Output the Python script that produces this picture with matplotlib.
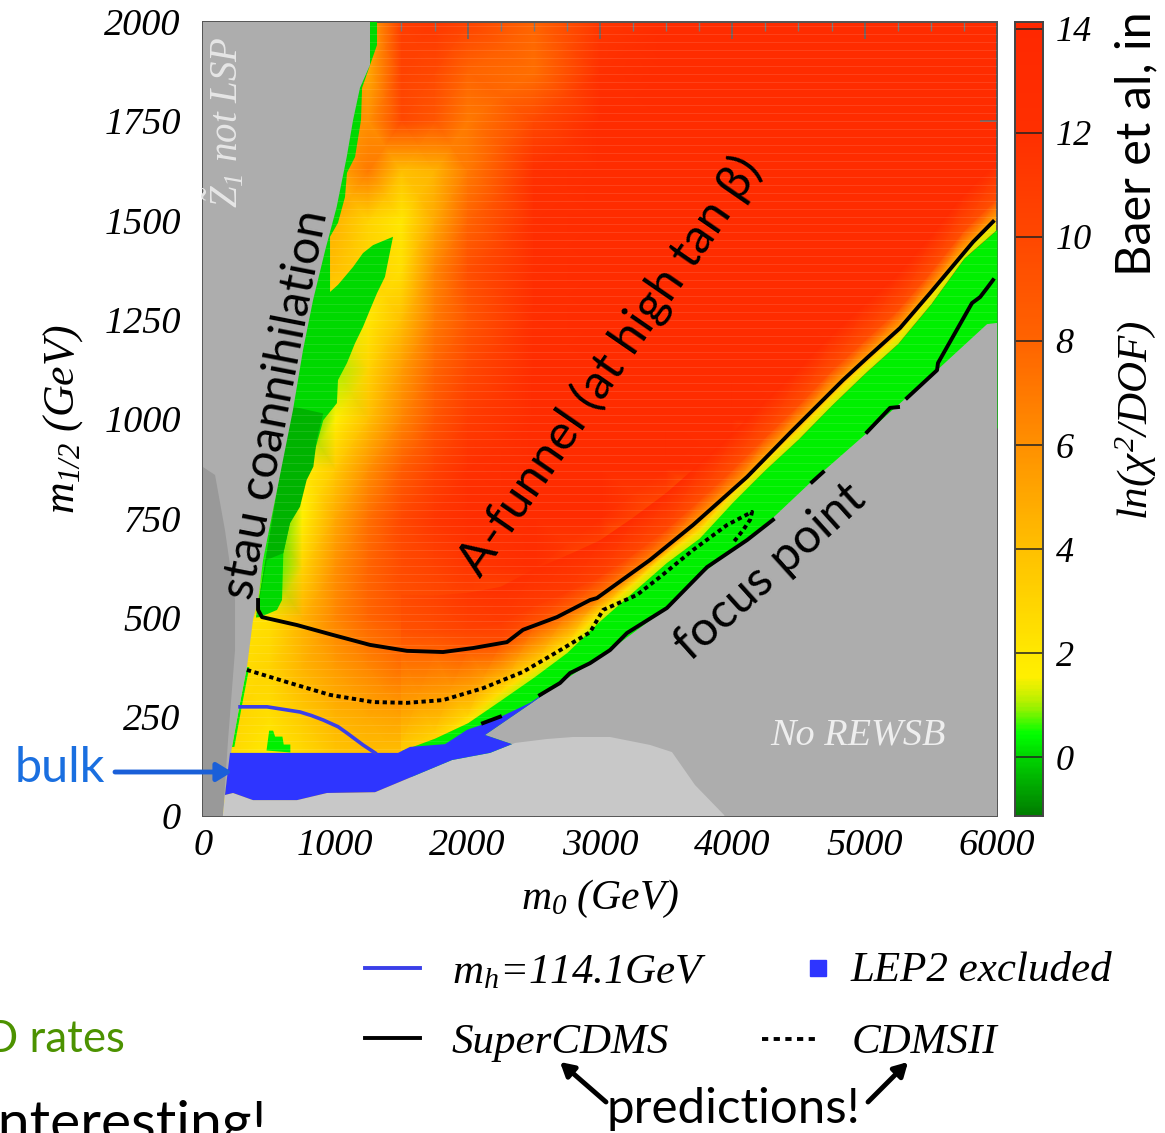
import numpy as np
import matplotlib
matplotlib.use('Agg')
import matplotlib.pyplot as plt
from matplotlib.colors import LinearSegmentedColormap

W, H = 1165, 1133

# fondo ln(chi2/DOF)
m0_grid = [0, 250, 500, 750, 1000, 1250, 1500, 1750, 2000, 2500, 3000, 3500, 4000, 4500, 5000, 5500, 6000]
m12_grid = [0, 125, 250, 375, 500, 625, 750, 875, 1000, 1125, 1250, 1375, 1500, 1625, 1750, 1875, 2000]
chi_grid = [
    [2, 2.5, 2, 3, 3.5, 4, 4, 3.5, 2, 1, 1, 1, 1, 1, 1, 1, 1],
    [2, 2.5, 1.5, 2.5, 3.5, 3.8, 3.6, 3.5, 3, 1, 1, 1, 1, 1, 1, 1, 1],
    [3, 3, 2.5, 3.5, 4.5, 5, 5.2, 4.8, 4, 1, 1, 1, 1, 1, 1, 1, 1],
    [2.5, 2.5, 3, 4.5, 5.5, 6.5, 7.5, 7.5, 7, 3, 1, 1, 1, 1, 1, 1, 1],
    [2, 2, 2.5, 4.5, 6.5, 8, 9.3, 9.7, 10, 8, 4, 1, 1, 1, 1, 1, 1],
    [0, 0, 0.5, 3, 6, 8, 9.8, 10.5, 11.5, 12.5, 9, 3, 1, 1, 1, 1, 1],
    [0, 0, 0, 1.5, 5, 7.5, 10, 11.5, 12.5, 13, 13, 9, 2, 1, 1, 1, 1],
    [0, 0, 0, 1.5, 3.5, 6, 8.5, 10.5, 12, 13, 13, 13, 12, 5, 1, 1, 1],
    [0, 0, 0, 0, 1.5, 4, 6.5, 9, 11, 13, 13, 13, 13, 12.5, 5, 1, 1],
    [0, 0, 0, 0, 1, 3, 5.5, 8, 10, 13, 13, 13, 13, 13, 12.5, 5, 1],
    [3, 3, 3, 3, 2, 2, 4, 7, 9, 12.5, 13, 13, 13, 13, 13, 12.5, 5],
    [4, 4, 4, 4, 4, 3, 2.5, 6.5, 9.5, 12.5, 13, 13, 13, 13, 13, 13, 12.5],
    [5, 5, 5, 5, 4.5, 3, 2, 5, 8, 12.5, 13, 13, 13, 13, 13, 13, 13],
    [5, 5, 5, 5, 5, 7, 4, 4.5, 7, 12, 13, 13, 13, 13, 13, 13, 13],
    [6, 6, 6, 6, 6, 6, 10, 9, 7, 10, 13, 13, 13, 13, 13, 13, 13],
    [6, 6, 6, 6, 6, 5, 10.5, 10, 8, 7.5, 12, 13, 13, 13, 13, 13, 13],
    [6, 6, 6, 6, 6, 5, 11, 11.5, 10.5, 8, 11.5, 13, 13, 13, 13, 13, 13],
]

# banda de transicion junto a focus point
band_m0 = [1500, 1750, 2000, 2250, 2500, 2750, 3000, 3250, 3500, 3750, 4000, 4250, 4500, 4750, 5000, 5250, 5500, 5750, 6000]
green_edge = [165, 196, 235, 292, 350, 412, 492, 565, 638, 700, 790, 873, 950, 1035, 1115, 1190, 1290, 1405, 1478]
solid_edge = [416, 414, 421, 436, 480, 515, 553, 610, 672, 745, 822, 905, 985, 1072, 1148, 1224, 1320, 1425, 1505]
band_chi0 = [3.5, 3, 2, 1.2, 1.2, 1.2, 1.2, 1.2, 1.2, 1.2, 1.2, 1.2, 1.2, 1.2, 1.2, 1.2, 1.2, 1.2, 1.2]
band_chi1 = [3.7, 3.5, 3, 2.5, 2.5, 2.5, 2.5, 2.5, 2.5, 2.5, 2.5, 2.5, 2.5, 2.5, 2.5, 2.5, 2.5, 2.5, 2.5]
band_chi2 = [8, 8, 9, 9.5, 9, 8, 7, 6.5, 6, 5.5, 5.5, 5, 5, 5, 5, 5, 5, 5, 5]
band_chi3 = [9.3, 9.7, 10.5, 11, 11, 11, 10.5, 10, 10, 9.5, 9.5, 9.5, 9.5, 9.5, 9.5, 9.5, 9.5, 9.5, 9.5]
band_chi4 = [9.8, 10.5, 11.5, 12, 12.5, 12.5, 13, 13, 13, 13, 13, 13, 13, 13, 13, 13, 13, 13, 13]

# zonas excluidas
stau_x = [0, 1262, 1262, 1186, 1134, 1086, 1010, 924, 832, 756, 680, 454, 416, 378, 332, 280, 219, 166, 150, 0]
stau_y = [2000, 2000, 1892, 1834, 1753, 1660, 1534, 1426, 1300, 1174, 1023, 645, 544, 494, 375, 285, 174, 53, 0, 0]
rewsb_x = [2131, 2494, 2698, 3076, 3250, 3506, 3779, 4307, 4587, 5018, 5547, 5925, 6000, 6000, 3945, 2335]
rewsb_y = [204, 287, 335, 418, 461, 524, 612, 751, 839, 965, 1123, 1239, 1242, 0, 0, 181]
light_x = [150, 166, 227, 378, 710, 937, 1300, 1882, 2169, 2358, 2600, 2796, 3076, 3378, 3544, 3718, 3945]
light_y = [0, 53, 58, 40, 40, 58, 60, 141, 159, 184, 194, 199, 199, 179, 161, 78, 0]
strip_x = [0, 0, 91, 166, 242, 242, 189, 151]
strip_y = [0, 879, 859, 720, 544, 418, 191, 0]
lep_x = [204, 1474, 1564, 1829, 1995, 2169, 2471, 2698, 2494, 2131, 2335, 2169, 1882, 1300, 937, 710, 378, 227, 166]
lep_y = [159, 159, 174, 181, 217, 237, 285, 335, 287, 204, 181, 159, 141, 60, 58, 40, 40, 58, 53]

# zonas verdes
coan_x = [1315, 1315, 1202, 1194, 1149, 1088, 1073, 1020, 960, 960, 1020, 1134, 1209, 1285, 1436, 1390, 1375, 1315,
          1262, 1209, 1149, 1088, 1020, 1012, 909, 846, 783, 720, 657, 607, 597, 559, 431, 400, 700, 1100, 1250]
coan_y = [2000, 1942, 1834, 1753, 1660, 1620, 1559, 1494, 1459, 1320, 1338, 1383, 1418, 1438, 1459, 1383, 1358, 1317,
          1275, 1232, 1191, 1141, 1098, 1040, 997, 922, 877, 813, 738, 662, 544, 519, 501, 500, 1100, 1800, 2000]
core_x = [683, 909, 859, 834, 783, 733, 657, 607, 481, 400, 650]
core_y = [1031, 1014, 947, 880, 846, 779, 737, 662, 645, 500, 1000]
bulk_x = [480, 500, 530, 545, 600, 610, 660, 660]
bulk_y = [165, 215, 215, 200, 200, 180, 180, 160]
sliver_x = [332, 350, 298, 237, 219, 280]
sliver_y = [375, 375, 285, 174, 174, 285]

# curvas
mh_x = [280, 484, 733, 820, 907, 1020, 1088, 1209, 1300]
mh_y = [275, 275, 262, 253, 242, 225, 209, 179, 159]
super_x = [416, 416, 446, 710, 982, 1262, 1542, 1814, 2040, 2297, 2418, 2675, 2925, 2977, 3378, 3703, 4111, 4436, 4836,
           5018, 5267, 5494, 5819, 5970]
super_y = [544, 519, 501, 481, 456, 431, 416, 413, 423, 438, 469, 501, 544, 549, 645, 733, 854, 965, 1098,
           1154, 1229, 1317, 1446, 1497]
super2_x = [5970, 5925, 5872, 5811, 5554, 5547, 5320, np.nan, 5252, 5192, 5018, np.nan, 4685, 4602, np.nan, 4307, 4111,
            3809, 3506, 3204, 3076, 2925, 2773, 2698, 2547, np.nan, 2244, 2116]
super2_y = [1350, 1330, 1307, 1292, 1141, 1123, 1053, np.nan, 1030, 1028, 967, np.nan, 866, 841, np.nan, 746, 695,
            627, 524, 461, 418, 385, 360, 335, 305, np.nan, 250, 234]
cdms_x = [332, 657, 960, 1285, 1542, 1814, 2116, 2418, 2675, 2925, 3023, 3280, 3453, 3703, 3960, 4149, 4134, 4081, 4005]
cdms_y = [368, 335, 305, 287, 285, 292, 322, 363, 413, 463, 519, 557, 602, 670, 733, 766, 746, 720, 688]

x_ticks = [0, 1000, 2000, 3000, 4000, 5000, 6000]
y_ticks = [0, 250, 500, 750, 1000, 1250, 1500, 1750, 2000]
cb_ticks = [0, 2, 4, 6, 8, 10, 12, 14]

plt.rcParams['mathtext.fontset'] = 'custom'
plt.rcParams['mathtext.it'] = 'Liberation Serif:italic'
plt.rcParams['mathtext.rm'] = 'Liberation Serif:italic'
plt.rcParams['mathtext.cal'] = 'Liberation Serif:italic'
plt.rcParams['font.family'] = 'Liberation Serif'
plt.rcParams['font.style'] = 'italic'

VMIN, VMAX = -1.13, 14.13
puntos = [(-1.13, '#007f00'), (0, '#00d800'), (0.4, '#00ff00'), (1.0, '#b0f000'), (1.5, '#fff000'), (2, '#ffe800'),
          (4, '#ffc000'), (6, '#ff9000'), (8, '#ff6400'), (10, '#ff4800'), (12, '#ff3000'), (14.13, '#ff2800')]
cmap = LinearSegmentedColormap.from_list('chi', [((v - VMIN) / (VMAX - VMIN), c) for v, c in puntos])
VERDE = cmap((0.3 - VMIN) / (VMAX - VMIN))
VERDE_MED = cmap((0.05 - VMIN) / (VMAX - VMIN))
VERDE_OSC = cmap((-0.45 - VMIN) / (VMAX - VMIN))


def caja(x0, y0, x1, y1):
    return [x0 / W, 1 - y1 / H, (x1 - x0) / W, (y1 - y0) / H]


fig = plt.figure(figsize=(W / 100, H / 100), dpi=100)
ax = fig.add_axes(caja(203, 22, 997, 816))

ax.pcolormesh(m0_grid, m12_grid, np.array(chi_grid), shading='gouraud', cmap=cmap, vmin=VMIN, vmax=VMAX, zorder=1)

verde = np.array(green_edge, dtype=float)
negra = np.array(solid_edge, dtype=float)
band_y = np.array([verde, verde + 20, negra, negra + 50, negra + 140])
band_x = np.tile(np.array(band_m0, dtype=float), (5, 1))
band_c = np.array([band_chi0, band_chi1, band_chi2, band_chi3, band_chi4])
ax.pcolormesh(band_x, band_y, band_c, shading='gouraud', cmap=cmap, vmin=VMIN, vmax=VMAX, zorder=2)

ax.fill_between(band_m0, np.maximum(verde - 500, 100), verde, color=VERDE, lw=0, zorder=3)
ax.fill(coan_x, coan_y, color=VERDE_MED, lw=0, zorder=3)
ax.fill(core_x, core_y, color=VERDE_OSC, lw=0, zorder=3.1)
ax.fill(bulk_x, bulk_y, color=VERDE, lw=0, zorder=3)
ax.fill(sliver_x, sliver_y, color=VERDE, lw=0, zorder=3)

# lineas claras del mosaico original
ax.hlines(np.arange(10, 2000, 20), 0, 6000, color='white', alpha=0.1, lw=0.8, zorder=4)

ax.fill(stau_x, stau_y, color='#adadad', lw=0, zorder=5)
ax.fill(rewsb_x, rewsb_y, color='#adadad', lw=0, zorder=5)
ax.fill(strip_x, strip_y, color='#999999', lw=0, zorder=6)
ax.fill(light_x, light_y, color='#c8c8c8', lw=0, zorder=6)
ax.fill(lep_x, lep_y, color='#2e35ff', lw=0, zorder=7)

ax.plot(mh_x, mh_y, color='#3a3fe8', lw=2.6, zorder=8)
ax.plot(super_x, super_y, color='black', lw=2.8, zorder=9)
ax.plot(super2_x, super2_y, color='black', lw=2.8, zorder=9)
ax.plot(cdms_x, cdms_y, color='black', lw=2.8, ls=(0, (1.1, 0.9)), zorder=9)

ax.set_xlim(0, 6000)
ax.set_ylim(0, 2000)
ax.set_xticks(x_ticks)
ax.set_yticks(y_ticks)
ax.set_xticks(np.arange(0, 6001, 250), minor=True)
ax.tick_params(axis='both', which='major', direction='in', top=True, right=True, length=12.5, width=1.2,
               color='#666666', labelsize=27.5, zorder=10)
ax.tick_params(axis='x', which='major', pad=9)
ax.tick_params(axis='y', which='major', pad=16)
ax.tick_params(axis='x', which='minor', direction='in', top=True, length=6.5, width=1, color='#777777')
for s in ax.spines.values():
    s.set_color('#555555')
    s.set_linewidth(1.4)

ax.set_xlabel(r'$m_0$ (GeV)', fontsize=30, labelpad=11)
ax.set_ylabel(r'$m_{1/2}$ (GeV)', fontsize=31.5, labelpad=14)

# barra de color
ax_cb = fig.add_axes(caja(1015, 22, 1043, 816))
grad = np.linspace(VMIN, VMAX, 400).reshape(-1, 1)
ax_cb.imshow(grad, origin='lower', aspect='auto', extent=[0, 1, VMIN, VMAX], cmap=cmap, vmin=VMIN, vmax=VMAX)
ax_cb.hlines(cb_ticks, 0, 1, color='#222222', lw=1.1)
ax_cb.set_xticks([])
ax_cb.set_yticks(cb_ticks)
ax_cb.yaxis.tick_right()
ax_cb.tick_params(axis='y', length=0, labelsize=26, pad=9)
for s in ax_cb.spines.values():
    s.set_color('#444444')
    s.set_linewidth(1.4)

# capa de anotaciones en pixeles
over = fig.add_axes([0, 0, 1, 1])
over.set_xlim(0, W)
over.set_ylim(H, 0)
over.axis('off')
over.patch.set_alpha(0)

SANS = {'family': 'Lato', 'style': 'normal'}
over.text(276, 405, 'stau coannihilation', rotation=79, rotation_mode='anchor', ha='center', va='center',
          fontsize=34.5, color='black', **SANS)
over.text(610, 366, 'A-funnel (at high tan β)', rotation=55.4, rotation_mode='anchor', ha='center', va='center',
          fontsize=35.5, color='black', **SANS)
over.text(770, 572, 'focus point', rotation=42, rotation_mode='anchor', ha='center', va='center',
          fontsize=35, color='black', **SANS)
over.text(60, 768, 'bulk', ha='center', va='center', fontsize=35, color='#1a6fe0', **SANS)
over.text(1136, 144, 'Baer et al, in', rotation=90, ha='center', va='center', fontsize=35, color='black', **SANS)
over.text(125, 1039, 'D rates', ha='right', va='center', fontsize=31.5, color='#4c9200', **SANS)
over.text(268, 1125, 'interesting!', ha='right', va='center', fontsize=41, color='black', **SANS)
over.text(733, 1109, 'predictions!', ha='center', va='center', fontsize=35.5, color='black', **SANS)

over.annotate('', xy=(232, 772), xytext=(115, 772),
              arrowprops=dict(arrowstyle='-|>,head_width=0.55,head_length=0.9', color='#1a5fd8', lw=3.5,
                              shrinkA=0, shrinkB=0))
over.annotate('', xy=(560, 1062), xytext=(606, 1102),
              arrowprops=dict(arrowstyle='-|>,head_width=0.45,head_length=0.8', color='black', lw=3.5,
                              shrinkA=0, shrinkB=0))
over.annotate('', xy=(908, 1062), xytext=(868, 1102),
              arrowprops=dict(arrowstyle='-|>,head_width=0.45,head_length=0.8', color='black', lw=3.5,
                              shrinkA=0, shrinkB=0))

over.text(858, 735, 'No REWSB', ha='center', va='center', fontsize=27.5, color='#eeeeee')
over.text(225, 122, r'$\tilde{Z}_1$ not LSP', rotation=90, ha='center', va='center', fontsize=28, color='#e6e6e6')
over.text(1136, 420, r'$ln(\chi^2/DOF)$', rotation=90, ha='center', va='center', fontsize=31, color='black')

# leyenda
over.plot([365, 420], [968, 968], color='#3a3fe8', lw=2.8)
over.text(452, 973, r'$m_h$=114.1GeV', ha='left', va='center', fontsize=31)
over.plot([818], [968], marker='s', ms=11.5, color='#2e35ff', lw=0)
over.text(850, 971, 'LEP2 excluded', ha='left', va='center', fontsize=31)
over.plot([365, 420], [1038, 1038], color='black', lw=2.8)
over.text(452, 1043, 'SuperCDMS', ha='left', va='center', fontsize=31)
over.plot([762, 818], [1039, 1039], color='black', lw=2.8, ls=(0, (1.6, 1.4)))
over.text(852, 1043, 'CDMSII', ha='left', va='center', fontsize=31)
over.set_xlim(0, W)
over.set_ylim(H, 0)

fig.savefig('out.png', dpi=100)
